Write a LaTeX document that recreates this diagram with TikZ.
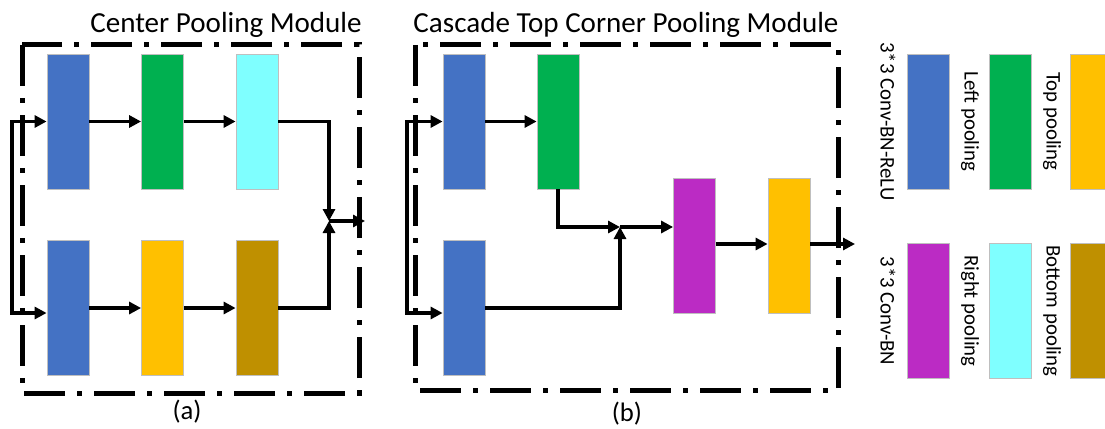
\documentclass[tikz,border=0pt]{standalone}
\usepackage{fontspec}
\setmainfont{Carlito}
\usetikzlibrary{arrows.meta}
\definecolor{convrelu}{HTML}{4472C4}
\definecolor{leftpool}{HTML}{00B050}
\definecolor{rightpool}{HTML}{7FFFFF}
\definecolor{toppool}{HTML}{FFC000}
\definecolor{bottompool}{HTML}{BF9000}
\definecolor{convbn}{HTML}{BB2BC4}
\begin{document}
\begin{tikzpicture}[x=0.75pt,y=-0.75pt,
  block/.style={draw=black!25, line width=0.6pt, inner sep=0pt,
    minimum width=31.5pt, minimum height=101.25pt},
  link/.style={line width=2.6pt, -{Triangle[length=9pt,width=9pt]}},
  frame/.style={line width=3.75pt,
    dash pattern=on 30.75pt off 9pt on 3.75pt off 9pt},
  title/.style={font=\fontsize{21.8}{26}\selectfont, anchor=base},
  caption/.style={font=\fontsize{20}{24}\selectfont, anchor=base},
  legend/.style={font=\fontsize{15.6}{19}\selectfont, rotate=-90, inner sep=0pt},
]
\useasboundingbox (0,0) rectangle (1105,428);

% ---------------- (a) Center pooling module ----------------
\draw[frame] (22,45) rectangle (359,393);
\node[title] (ta) at (226,33) {Center Pooling Module};
\node[caption] (ca) at (187,419) {(a)};

\node[block, fill=convrelu]   (a1t) at (68,121.5) {};
\node[block, fill=leftpool]   (a2t) at (162.5,121.5) {};
\node[block, fill=rightpool]  (a3t) at (257,121.5) {};
\node[block, fill=convrelu]   (a1b) at (68,308) {};
\node[block, fill=toppool]    (a2b) at (162.5,308) {};
\node[block, fill=bottompool] (a3b) at (257,308) {};

\coordinate (a-in) at (12,217);
\coordinate (a-join) at (329,221);
\coordinate (a-out) at (365,221);

\draw[link] (a-in) |- (a1t.west);
\draw[link] (a-in) |- ([yshift=-3.75pt]a1b.west);
\draw[link] (a1t) -- (a2t);
\draw[link] (a2t) -- (a3t);
\draw[link] (a1b) -- (a2b);
\draw[link] (a2b) -- (a3b);
\draw[link] (a3t.east) -| (a-join);
\draw[link] (a3b.east) -| (a-join);
\draw[link] (a-join) -- (a-out);

% ---------------- (b) Cascade top corner pooling module ----------------
\draw[frame] (415,45) rectangle (838,390);
\node[title] (tb) at (626,33) {Cascade Top Corner Pooling Module};
\node[caption] (cb) at (627,421) {(b)};

\node[block, fill=convrelu] (b1t) at (464,121.5) {};
\node[block, fill=leftpool] (b2t) at (558,121.5) {};
\node[block, fill=convrelu] (b1b) at (464,308) {};
\node[block, fill=convbn]   (b3)  at (694.5,246) {};
\node[block, fill=toppool]  (b4)  at (789,246) {};

\coordinate (b-in) at (407,217);
\coordinate (b-join) at (620,227);
\coordinate (b-out) at (855,244);

\draw[link] (b-in) |- (b1t.west);
\draw[link] (b-in) |- ([yshift=-3.75pt]b1b.west);
\draw[link] (b1t) -- (b2t);
\draw[link] (b2t.south) |- (b-join);
\draw[link] (b1b.east) -| (b-join);
\draw[link] (b-join) -- (b3.west |- b-join);
\draw[link] (b3.east |- b-out) -- (b4.west |- b-out);
\draw[link] (b4.east |- b-out) -- (b-out);

% ---------------- Legend ----------------
\node[block, fill=convrelu]   (k1) at (928.5,121.5) {};
\node[block, fill=leftpool]   (k2) at (1010.5,121.5) {};
\node[block, fill=toppool]    (k3) at (1091.5,121.5) {};
\node[block, fill=convbn]     (k4) at (928.5,311) {};
\node[block, fill=rightpool]  (k5) at (1010.5,311) {};
\node[block, fill=bottompool] (k6) at (1091.5,311) {};

\node[legend] (l1) at (888,121.5) {3*3 Conv-BN-ReLU};
\node[legend] (l2) at (970,121.5) {Left pooling};
\node[legend] (l3) at (1052,121.5) {Top pooling};
\node[legend] (l4) at (888,311) {3*3 Conv-BN};
\node[legend] (l5) at (970,311) {Right pooling};
\node[legend] (l6) at (1052,311) {Bottom pooling};
\end{tikzpicture}
\end{document}
